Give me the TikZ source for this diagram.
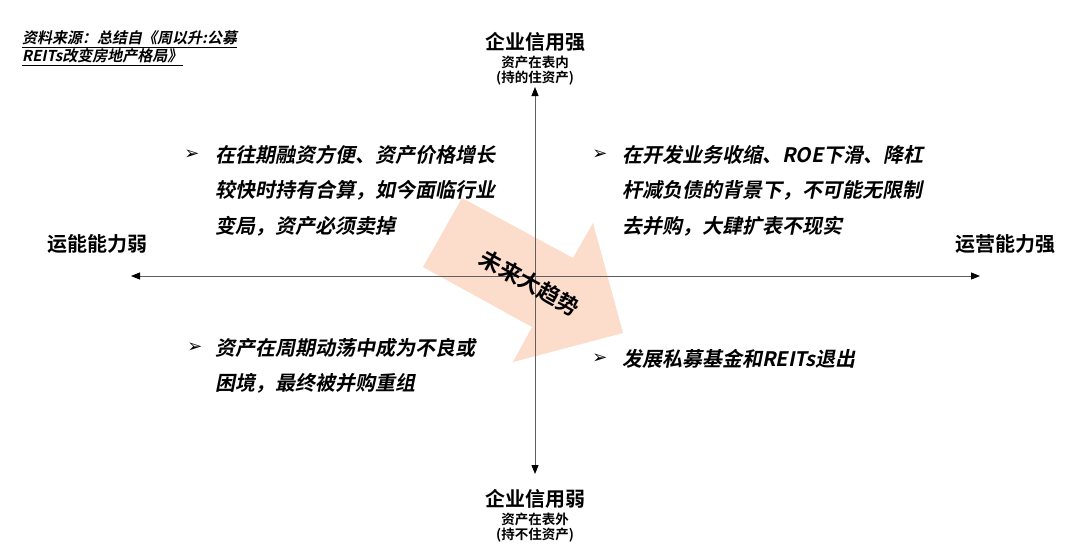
\documentclass[tikz,border=0pt]{standalone}
\usepackage{fontspec}
\usetikzlibrary{arrows.meta}
\newfontfamily\cjkb{Noto Sans CJK SC Bold}
\newfontfamily\cjkbi{Noto Sans CJK SC Bold}[FakeSlant=0.2]
\newfontfamily\dejavu{DejaVu Sans}
\definecolor{arrowfill}{RGB}{252,220,203}
\definecolor{axisgray}{RGB}{95,95,95}
\tikzset{
  headlbl/.style={font=\cjkb\fontsize{20}{24}\selectfont, inner sep=0pt},
  sublbl/.style={font=\cjkb\fontsize{13.5}{16}\selectfont, inner sep=0pt},
  bodytxt/.style={font=\cjkbi\fontsize{20}{24}\selectfont, anchor=west, inner sep=0pt},
  srctxt/.style={font=\cjkbi\fontsize{15}{17}\selectfont, anchor=west, inner sep=0pt},
  bulletmark/.style={font=\dejavu\fontsize{18}{20}\selectfont, inner sep=0pt},
  axisline/.style={draw=axisgray, line width=0.9pt, {Triangle[length=9pt,width=7pt,fill=black,color=black]}-{Triangle[length=9pt,width=7pt,fill=black,color=black]}},
  bigarrow/.style={fill=arrowfill, draw=none},
}
\begin{document}
\begin{tikzpicture}[x=1pt,y=-1pt]
\useasboundingbox (0,0) rectangle (1080,547);
\fill[white] (0,0) rectangle (1080,547);

% big trend arrow
\fill[bigarrow] (462,198) -- (573,258) -- (593,223) -- (623,333) -- (513,362) -- (532,327) -- (423,267) -- cycle;

% axes
\coordinate (L) at (131,276);
\coordinate (R) at (980,276);
\coordinate (T) at (535,87);
\coordinate (B) at (535,474);
\draw[axisline] (L) -- (R);
\draw[axisline] (B) -- (T);

% trend text
\node[headlbl, font=\cjkb\fontsize{22}{26}\selectfont, rotate=-29] (trend) at (530,283) {未来大趋势};

% source
\node[srctxt] (src1) at (22,38) {资料来源：总结自《周以升:公募};
\node[srctxt] (src2) at (22,56) {REITs改变房地产格局》};
\draw[line width=0.9pt] ([yshift=-2pt]src1.south west) -- ([yshift=-2pt]src1.south east);
\draw[line width=0.9pt] ([yshift=-2pt]src2.south west) -- ([yshift=-2pt]src2.south east);

% axis labels
\node[headlbl] (top) at (535,42) {企业信用强};
\node[sublbl] (top2) at (535,62) {资产在表内};
\node[sublbl] (top3) at (535,78) {(持的住资产)};
\node[headlbl] (bot) at (535,499) {企业信用弱};
\node[sublbl] (bot2) at (535,519) {资产在表外};
\node[sublbl] (bot3) at (535,535) {(持不住资产)};
\node[headlbl] (left) at (97,244) {运能能力弱};
\node[headlbl] (right) at (1005,244) {运营能力强};

% top-left quadrant
\node[bulletmark] (b1) at (192,155) {➢};
\node[bodytxt] (tl1) at (215,155) {在往期融资方便、资产价格增长};
\node[bodytxt] (tl2) at (215,190.5) {较快时持有合算，如今面临行业};
\node[bodytxt] (tl3) at (215,226) {变局，资产必须卖掉};

% top-right quadrant
\node[bulletmark] (b2) at (600,155) {➢};
\node[bodytxt] (tr1) at (622,155) {在开发业务收缩、ROE下滑、降杠};
\node[bodytxt] (tr2) at (622,190.5) {杆减负债的背景下，不可能无限制};
\node[bodytxt] (tr3) at (622,226) {去并购，大肆扩表不现实};

% bottom-left quadrant
\node[bulletmark] (b3) at (195,348) {➢};
\node[bodytxt] (bl1) at (215,348) {资产在周期动荡中成为不良或};
\node[bodytxt] (bl2) at (215,383) {困境，最终被并购重组};

% bottom-right quadrant
\node[bulletmark] (b4) at (600,359) {➢};
\node[bodytxt] (br1) at (622,359) {发展私募基金和REITs退出};
\end{tikzpicture}
\end{document}
